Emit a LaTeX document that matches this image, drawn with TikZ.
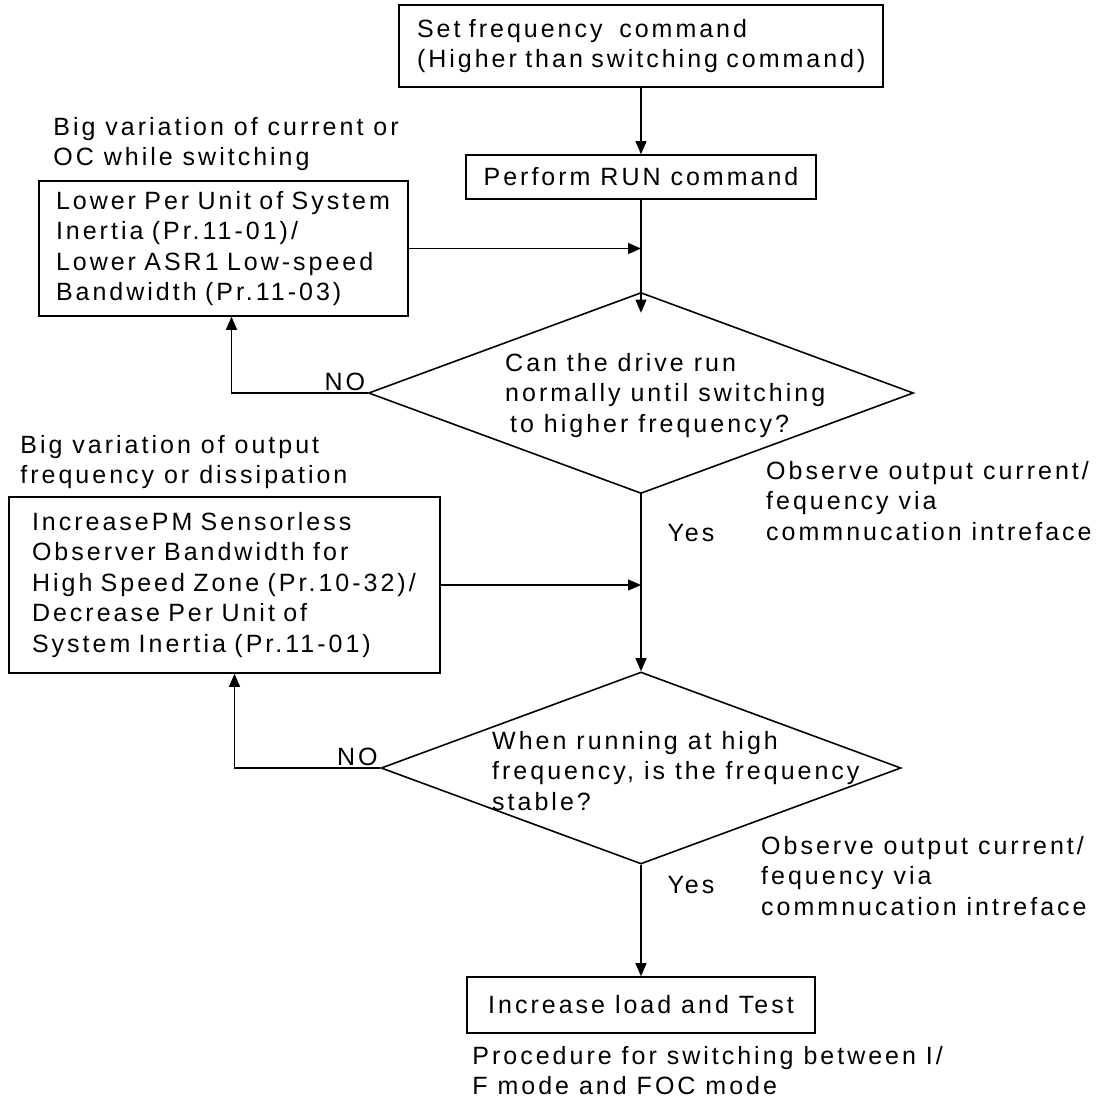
\documentclass[tikz,border=0pt]{standalone}
\usepackage{fontspec}
\setmainfont{Liberation Sans}[LetterSpace=12]
\usetikzlibrary{shapes.geometric, arrows.meta, positioning}

\begin{document}
\begin{tikzpicture}[x=1pt, y=-1pt, font=\fontsize{25}{30.5}\selectfont,
    box/.style={draw, rectangle, line width=1.6pt, inner ysep=0pt},
    decision/.style={draw, diamond, line width=1.6pt, inner sep=0pt},
    txt/.style={align=left, inner sep=0pt},
    flow/.style={-{Triangle[length=13pt,width=11pt]}, line width=1.2pt}]
    \useasboundingbox (0,0) rectangle (1109,1101);

    \node[box, minimum width=484pt, minimum height=82pt, text width=448pt, inner xsep=18pt, align=left] (set) at (641,46) {Set frequency\ \ command\\(Higher than switching command)};
    \node[box, minimum width=350pt, minimum height=44pt, below of=set, node distance=131pt] (run) {Perform RUN command};
    \node[decision, minimum width=545pt, minimum height=201pt, below of=run, node distance=216pt] (d1) {};
    \node[decision, minimum width=520pt, minimum height=192pt, below of=d1, node distance=375pt] (d2) {};
    \node[box, minimum width=348pt, minimum height=56pt, below of=d2, node distance=237pt] (test) {Increase load and Test};

    \node[box, minimum width=369pt, minimum height=135pt, text width=335pt, inner xsep=17pt, align=left] (lower) at (223.5,248.5) {Lower Per Unit of System\\Inertia (Pr.11-01)/\\Lower ASR1 Low-speed\\Bandwidth (Pr.11-03)};
    \node[box, minimum width=431pt, minimum height=176pt, text width=385pt, inner xsep=23pt, align=left] (incr) at (224.5,585) {IncreasePM Sensorless\\Observer Bandwidth for\\High Speed Zone (Pr.10-32)/\\Decrease Per Unit of\\System Inertia (Pr.11-01)};

    \node[txt, anchor=north west] (q1) at (505,353) {Can the drive run\\normally until switching\\\hspace{5pt}to higher frequency?};
    \node[txt, anchor=north west] (q2) at (492,731) {When running at high\\frequency, is the frequency\\stable?};
    \node[txt, anchor=south west] (lowernote) at ([xshift=15pt,yshift=9pt]lower.north west) {Big variation of current or\\OC while switching};
    \node[txt, anchor=south west] (incrnote) at ([xshift=12pt,yshift=7pt]incr.north west) {Big variation of output\\frequency or dissipation};
    \node[txt, anchor=north west] (obs1) at (766,461) {Observe output current/\\fequency via\\commnucation intreface};
    \node[txt, anchor=north west] (obs2) at (761,836) {Observe output current/\\fequency via\\commnucation intreface};
    \node[txt, anchor=north west] (procnote) at ([xshift=6pt,yshift=-12pt]test.south west) {Procedure for switching between I/\\F mode and FOC mode};

    \draw[flow] (set) -- (run);
    \draw[flow] (run) -- ([yshift=-21pt]d1.north);
    \draw[flow] (d1) -- node[pos=.22, anchor=west, xshift=26pt, inner sep=0pt] (yes1) {Yes} (d2);
    \draw[flow] (d2) -- node[pos=.18, anchor=west, xshift=26pt, inner sep=0pt] (yes2) {Yes} (test);
    \draw[flow] (lower.east) -- (lower.east -| d1.north);
    \draw[flow] (incr.east) -- (incr.east -| d1.north);
    \draw[flow] (d1.west) -| node[pos=0, anchor=south east, inner sep=2pt] (no1) {NO} ([xshift=8pt]lower.south);
    \draw[flow] (d2.west) -| node[pos=0, anchor=south east, inner sep=2pt] (no2) {NO} ([xshift=10pt]incr.south);
\end{tikzpicture}
\end{document}
